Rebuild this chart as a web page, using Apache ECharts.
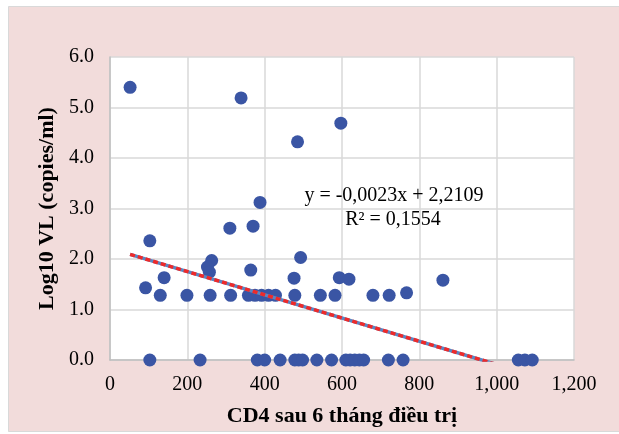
<!DOCTYPE html>
<html>
<head>
<meta charset="utf-8">
<script src="https://cdn.jsdelivr.net/npm/echarts@6/dist/echarts.min.js"></script>
<style>
html,body{margin:0;padding:0;background:#ffffff;}
#chart{width:619px;height:434px;}
</style>
</head>
<body>
<div id="chart"></div>
<script>
// CD4 after 6 months of treatment (x) and log10 viral load (y)
var cd4Values = [
  52, 339, 485, 597, 388, 310, 370, 103,
  263, 252, 257, 364, 493, 92, 140, 476, 593, 618, 767, 861,
  130, 199, 259, 312, 358, 375, 392, 410, 428, 478, 544, 582, 680, 722,
  103, 233, 381, 400, 440, 478, 488, 498, 535, 573, 610, 621, 633, 645, 656, 720, 758, 1056, 1073, 1092
];
var logVLValues = [
  5.40, 5.19, 4.32, 4.69, 3.12, 2.61, 2.65, 2.36,
  1.97, 1.84, 1.74, 1.78, 2.03, 1.43, 1.63, 1.62, 1.63, 1.60, 1.33, 1.58,
  1.28, 1.28, 1.28, 1.28, 1.28, 1.28, 1.28, 1.28, 1.28, 1.28, 1.28, 1.28, 1.28, 1.28,
  0, 0, 0, 0, 0, 0, 0, 0, 0, 0, 0, 0, 0, 0, 0, 0, 0, 0, 0, 0
];
var xTicks = [0, 200, 400, 600, 800, 1000, 1200];
var yTicks = [0, 1, 2, 3, 4, 5, 6];
var trendSlope = -0.0023;
var trendIntercept = 2.2109;
var equationLines = ['y = -0,0023x + 2,2109', 'R² = 0,1554'];

var points = cd4Values.map(function (x, i) { return [x, logVLValues[i]]; });
var xMin = Math.min.apply(null, cd4Values);
var xMax = Math.max.apply(null, cd4Values);
var trendData = [
  [xMin, trendSlope * xMin + trendIntercept],
  [xMax, trendSlope * xMax + trendIntercept]
];

var serif = '"Liberation Serif", "DejaVu Serif", serif';
var chart = echarts.init(document.getElementById('chart'), null, {renderer: 'canvas'});
chart.setOption({
  animation: false,
  backgroundColor: '#ffffff',
  graphic: [
    {type: 'rect', left: 8, top: 6, z: -10,
     shape: {width: 611, height: 425},
     style: {fill: '#f2dcdb', stroke: '#d9d9d9', lineWidth: 1}},
    {type: 'text', x: 394, y: 196, z: 100,
     style: {text: equationLines[0], font: '20px ' + serif, fill: '#000000',
             align: 'center', verticalAlign: 'middle'}},
    {type: 'text', x: 393, y: 220, z: 100,
     style: {text: equationLines[1], font: '20px ' + serif, fill: '#000000',
             align: 'center', verticalAlign: 'middle'}}
  ],
  grid: {left: 110, top: 57, right: 45, bottom: 74, show: true,
         backgroundColor: '#ffffff', borderWidth: 0},
  xAxis: {
    type: 'value', min: 0, max: 1200, interval: 200,
    name: 'CD4 sau 6 tháng điều trị', nameLocation: 'middle', nameGap: 45,
    nameTextStyle: {fontFamily: serif, fontSize: 22, fontWeight: 'bold', color: '#000000'},
    axisLine: {show: true, lineStyle: {color: '#bfbfbf', width: 1.5}},
    axisTick: {show: false},
    axisLabel: {fontFamily: serif, fontSize: 20, color: '#000000', margin: 15,
      formatter: function (v) { return xTicks.indexOf(v) >= 0 ? v.toLocaleString('en-US') : ''; }},
    splitLine: {show: true, lineStyle: {color: '#d9d9d9', width: 1.5}}
  },
  yAxis: {
    type: 'value', min: 0, max: 6, interval: 1,
    name: 'Log10 VL (copies/ml)', nameLocation: 'middle', nameGap: 46, nameRotate: 90,
    nameTextStyle: {fontFamily: serif, fontSize: 22, fontWeight: 'bold', color: '#000000'},
    axisLine: {show: true, lineStyle: {color: '#bfbfbf', width: 1.5}},
    axisTick: {show: false},
    axisLabel: {fontFamily: serif, fontSize: 20, color: '#000000', margin: 16,
      formatter: function (v) { return yTicks.indexOf(v) >= 0 ? v.toFixed(1) : ''; }},
    splitLine: {show: true, lineStyle: {color: '#d9d9d9', width: 1.5}}
  },
  series: [
    {type: 'scatter', data: points, symbol: 'circle', symbolSize: 13,
     itemStyle: {color: '#3a55a4', opacity: 1}, z: 3},
    {type: 'line', data: trendData, symbol: 'none', clip: true, z: 4,
     lineStyle: {color: '#5b86c2', width: 3.5}},
    {type: 'line', data: trendData, symbol: 'none', clip: true, z: 5,
     lineStyle: {color: '#ee2a2a', width: 3.5, type: [5, 3]}}
  ]
});
</script>
</body>
</html>
